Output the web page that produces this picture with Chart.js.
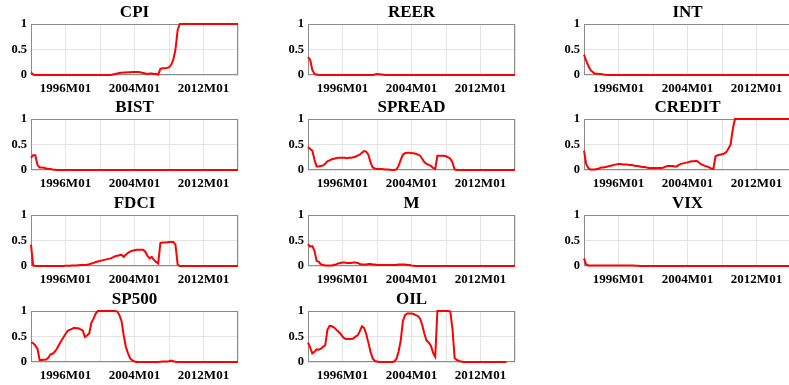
<!DOCTYPE html>
<html>
<head>
<meta charset="utf-8">
<script src="https://cdn.jsdelivr.net/npm/chart.js@4.4.1/dist/chart.umd.min.js"></script>
<style>
  html, body { margin: 0; padding: 0; background: #fff; overflow: hidden; }
  body { width: 789px; height: 385px; position: relative; }
  canvas { position: absolute; }
</style>
</head>
<body>
<script>
// Quarterly observation dates (categories)
const quarters = [
"1992M01","1992M04","1992M07","1992M10","1993M01","1993M04","1993M07","1993M10",
"1994M01","1994M04","1994M07","1994M10","1995M01","1995M04","1995M07","1995M10",
"1996M01","1996M04","1996M07","1996M10","1997M01","1997M04","1997M07","1997M10",
"1998M01","1998M04","1998M07","1998M10","1999M01","1999M04","1999M07","1999M10",
"2000M01","2000M04","2000M07","2000M10","2001M01","2001M04","2001M07","2001M10",
"2002M01","2002M04","2002M07","2002M10","2003M01","2003M04","2003M07","2003M10",
"2004M01","2004M04","2004M07","2004M10","2005M01","2005M04","2005M07","2005M10",
"2006M01","2006M04","2006M07","2006M10","2007M01","2007M04","2007M07","2007M10",
"2008M01","2008M04","2008M07","2008M10","2009M01","2009M04","2009M07","2009M10",
"2010M01","2010M04","2010M07","2010M10","2011M01","2011M04","2011M07","2011M10",
"2012M01","2012M04","2012M07","2012M10","2013M01","2013M04","2013M07","2013M10",
"2014M01","2014M04","2014M07","2014M10","2015M01","2015M04","2015M07","2015M10",
"2016M01"];

// x-axis tick labels shown
const xTickLabels = ["1996M01", "2004M01", "2012M01"];
// y-axis tick labels
const yTickLabels = ["0", "0.5", "1"];

// Series values (one per quarter, 1992M01 .. 2016M01)
const CPI = [
0.05,0.01,0,0, 0,0,0,0, 0,0,0,0, 0,0,0,0, 0,0,0,0, 0,0,0,0, 0,0,0,0, 0,0,0,0, 0,0,0,0,
0,0,0.01,0.02, 0.03,0.04,0.045,0.05, 0.05,0.055,0.055,0.06, 0.06,0.06,0.06,0.05, 0.04,0.03,0.02,0.03,
0.03,0.02,0.02,0.01, 0.12,0.13,0.13,0.14, 0.15,0.2,0.3,0.5, 0.88,1,1,1,
1,1,1,1, 1,1,1,1, 1,1,1,1, 1,1,1,1, 1,1,1,1, 1,1,1,1, 1];

const REER = [
0.35,0.3,0.1,0.02, 0.01,0,0,0, 0,0,0,0, 0,0,0,0, 0,0,0,0, 0,0,0,0, 0,0,0,0, 0,0,0,0.01,
0.02,0.015,0.01,0.005, 0,0,0,0, 0,0,0,0, 0,0,0,0, 0,0,0,0, 0,0,0,0, 0,0,0,0, 0,0,0,0,
0,0,0,0, 0,0,0,0, 0,0,0,0, 0,0,0,0, 0,0,0,0, 0,0,0,0, 0,0,0,0, 0,0,0,0, 0];

const INT = [
0.4,0.28,0.18,0.1, 0.06,0.03,0.025,0.02, 0.02,0.01,0.005,0, 0,0,0,0, 0,0,0,0, 0,0,0,0,
0,0,0,0, 0,0,0,0, 0,0,0,0, 0,0,0,0, 0,0,0,0, 0,0,0,0, 0,0,0,0, 0,0,0,0, 0,0,0,0,
0,0,0,0, 0,0,0,0, 0,0,0,0, 0,0,0,0, 0,0,0,0, 0,0,0,0, 0,0,0,0, 0,0,0,0, 0,0,0,0, 0];

const BIST = [
0.24,0.29,0.29,0.1, 0.05,0.05,0.045,0.03, 0.02,0.02,0.01,0.005, 0,0,0,0, 0,0,0,0, 0,0,0,0,
0,0,0,0, 0,0,0,0, 0,0,0,0, 0,0,0,0, 0,0,0,0, 0,0,0,0, 0,0,0,0, 0,0,0,0, 0,0,0,0,
0,0,0,0, 0,0,0,0, 0,0,0,0, 0,0,0,0, 0,0,0,0, 0,0,0,0, 0,0,0,0, 0,0,0,0, 0,0,0,0, 0];

const SPREAD = [
0.45,0.41,0.38,0.2, 0.07,0.07,0.08,0.09, 0.12,0.17,0.19,0.21, 0.22,0.23,0.24,0.24,
0.24,0.24,0.23,0.24, 0.24,0.25,0.26,0.28, 0.3,0.34,0.37,0.36, 0.3,0.15,0.05,0.03,
0.02,0.02,0.02,0.015, 0.01,0.01,0.005,0, 0,0.01,0.08,0.2, 0.3,0.33,0.34,0.34,
0.33,0.33,0.32,0.3, 0.28,0.22,0.15,0.12, 0.1,0.08,0.04,0.02, 0.28,0.28,0.28,0.28,
0.27,0.25,0.22,0.15, 0.01,0,0,0, 0,0,0,0, 0,0,0,0, 0,0,0,0, 0,0,0,0, 0,0,0,0, 0,0,0,0, 0];

const CREDIT = [
0.38,0.12,0.04,0.01, 0.01,0.01,0.02,0.03, 0.05,0.05,0.06,0.07, 0.08,0.09,0.1,0.11,
0.12,0.12,0.11,0.11, 0.11,0.1,0.1,0.09, 0.08,0.08,0.07,0.06, 0.06,0.05,0.04,0.04,
0.04,0.04,0.04,0.04, 0.04,0.05,0.07,0.08, 0.08,0.08,0.07,0.07, 0.1,0.12,0.13,0.14,
0.15,0.16,0.17,0.17, 0.18,0.16,0.12,0.1, 0.08,0.07,0.05,0.03, 0.02,0.27,0.29,0.3,
0.31,0.32,0.35,0.42, 0.5,0.8,1,1, 1,1,1,1, 1,1,1,1, 1,1,1,1, 1,1,1,1, 1,1,1,1, 1,1,1,1, 1];

const FDCI = [
0.42,0.01,0,0, 0,0,0,0, 0,0,0,0, 0,0,0,0, 0.005,0.005,0.005,0.01, 0.01,0.01,0.015,0.02,
0.02,0.02,0.025,0.035, 0.05,0.06,0.08,0.09, 0.1,0.11,0.12,0.13, 0.14,0.15,0.17,0.19,
0.2,0.21,0.22,0.18, 0.22,0.26,0.28,0.3, 0.31,0.32,0.32,0.32, 0.32,0.28,0.2,0.15,
0.18,0.12,0.08,0.05, 0.45,0.46,0.46,0.46, 0.47,0.47,0.47,0.42, 0.03,0,0,0,
0,0,0,0, 0,0,0,0, 0,0,0,0, 0,0,0,0, 0,0,0,0, 0,0,0,0, 0,0,0,0, 0];

const M = [
0.43,0.38,0.39,0.3, 0.1,0.08,0.03,0.02, 0.01,0.01,0.01,0.01, 0.02,0.03,0.05,0.06,
0.07,0.07,0.06,0.06, 0.06,0.07,0.07,0.06, 0.04,0.03,0.03,0.03, 0.04,0.04,0.03,0.03,
0.02,0.02,0.02,0.02, 0.02,0.02,0.02,0.02, 0.02,0.02,0.03,0.03, 0.03,0.03,0.02,0.02,
0.01,0.005,0,0, 0,0,0,0, 0,0,0,0, 0,0,0,0, 0,0,0,0, 0,0,0,0,
0,0,0,0, 0,0,0,0, 0,0,0,0, 0,0,0,0, 0,0,0,0, 0,0,0,0, 0,0,0,0, 0];

const VIX = [
0.15,0.03,0.01,0.01, 0.01,0.01,0.01,0.01, 0.01,0.01,0.01,0.01, 0.01,0.01,0.01,0.01,
0.01,0.01,0.01,0.01, 0.01,0.01,0.01,0.01, 0.005,0.005,0,0, 0,0,0,0, 0,0,0,0, 0,0,0,0,
0,0,0,0, 0,0,0,0, 0,0,0,0, 0,0,0,0, 0,0,0,0, 0,0,0,0, 0,0,0,0, 0,0,0,0,
0,0,0,0, 0,0,0,0, 0,0,0,0, 0,0,0,0, 0,0,0,0, 0,0,0,0, 0];

const SP500 = [
0.38,0.37,0.32,0.26, 0.04,0.04,0.045,0.05, 0.08,0.15,0.16,0.2, 0.26,0.34,0.41,0.48,
0.55,0.61,0.63,0.65, 0.67,0.66,0.66,0.64, 0.62,0.49,0.52,0.56, 0.77,0.85,0.95,1,
1,1,1,1, 1,1,1,1, 0.99,0.92,0.8,0.52, 0.3,0.17,0.07,0.03,
0.01,0,0,0, 0,0,0,0, 0,0,0,0, 0.005,0.01,0.01,0.01, 0.015,0.03,0.015,0.005,
0,0,0,0, 0,0,0,0, 0,0,0,0, 0,0,0,0, 0,0,0,0, 0,0,0,0, 0,0,0,0, 0];

const OIL = [
0.38,0.28,0.17,0.2, 0.25,0.24,0.26,0.3, 0.33,0.63,0.71,0.7, 0.68,0.64,0.6,0.56,
0.5,0.46,0.45,0.45, 0.45,0.46,0.5,0.52, 0.6,0.7,0.67,0.55, 0.38,0.2,0.07,0.02,
0.01,0,0,0, 0,0,0,0, 0.01,0.06,0.2,0.42, 0.8,0.92,0.95,0.95,
0.95,0.94,0.92,0.9, 0.85,0.72,0.55,0.42, 0.38,0.32,0.18,0.1, 1,1,1,1,
1,1,0.99,0.65, 0.08,0.04,0.02,0.01, 0,0,0,0, 0,0,0,0, 0,0,0,0, 0,0,0,0, 0,0,0,0, 0];

const panelNames = ["CPI","REER","INT","BIST","SPREAD","CREDIT","FDCI","M","VIX","SP500","OIL"];
const panelSeries = [CPI, REER, INT, BIST, SPREAD, CREDIT, FDCI, M, VIX, SP500, OIL];

// layout (pixels)
const colLeft = [31, 308, 584];
const rowTop = [24, 119, 215, 311];
const plotW = 209, plotH = 51;
const yAxisW = 31, titleH = 24, xAxisH = 22, padR = 4;

function toYear(q) {
  return parseInt(q.slice(0, 4), 10) + (parseInt(q.slice(5), 10) - 1) / 12;
}

const boxPlugin = {
  id: 'axbox',
  beforeDatasetsDraw(chart) {
    const a = chart.chartArea, ctx = chart.ctx;
    ctx.save();
    ctx.strokeStyle = '#8c8c8c';
    ctx.lineWidth = 1;
    ctx.strokeRect(Math.round(a.left) + 0.5, Math.round(a.top) + 0.5,
                   Math.round(a.right - a.left) - 1, Math.round(a.bottom - a.top) - 1);
    ctx.restore();
  }
};

const FONT = "'Liberation Serif', 'Times New Roman', serif";

panelNames.forEach((name, i) => {
  const row = Math.floor(i / 3), col = i % 3;
  const cv = document.createElement('canvas');
  const W = yAxisW + plotW + padR, H = titleH + plotH + xAxisH;
  cv.width = W; cv.height = H;
  cv.style.left = (colLeft[col] - yAxisW) + 'px';
  cv.style.top = (rowTop[row] - titleH) + 'px';
  cv.style.width = W + 'px'; cv.style.height = H + 'px';
  document.body.appendChild(cv);

  const series = panelSeries[i];
  const pts = quarters.map((q, k) => ({ x: toYear(q), y: series[k] }));

  new Chart(cv.getContext('2d'), {
    type: 'line',
    data: { datasets: [{ data: pts, borderColor: '#ff0000', borderWidth: 2,
      pointRadius: 0, tension: 0, clip: 4, fill: false }] },
    options: {
      responsive: false, animation: false, devicePixelRatio: 1,
      layout: { padding: { left: 0, right: padR, top: 0, bottom: 0 } },
      plugins: {
        legend: { display: false }, tooltip: { enabled: false },
        title: { display: true, text: name, fullSize: false, color: '#000',
          font: { family: FONT, size: 17, weight: 'bold', lineHeight: 1 },
          padding: { top: 4, bottom: 3 } }
      },
      scales: {
        x: {
          type: 'linear', min: 1992, max: 2016,
          afterFit: s => { s.height = xAxisH; },
          border: { display: false },
          grid: { color: '#e4e4e4', drawTicks: false, lineWidth: 1 },
          ticks: {
            stepSize: 4, autoSkip: false, maxRotation: 0, padding: 6, color: '#000',
            font: { family: FONT, size: 13, weight: 'bold' },
            callback: v => {
              const lbl = xTickLabels.find(t => Math.abs(toYear(t) - v) < 1e-6);
              return lbl || '';
            }
          }
        },
        y: {
          min: 0, max: 1,
          afterFit: s => { s.width = yAxisW; },
          border: { display: false },
          grid: { color: '#e4e4e4', drawTicks: false, lineWidth: 1 },
          ticks: {
            stepSize: 0.5, padding: 4, color: '#000',
            font: { family: FONT, size: 12.5, weight: 'bold' },
            callback: v => yTickLabels.find(t => Math.abs(parseFloat(t) - v) < 1e-6) || ''
          }
        }
      }
    },
    plugins: [boxPlugin]
  });
});
</script>
</body>
</html>
